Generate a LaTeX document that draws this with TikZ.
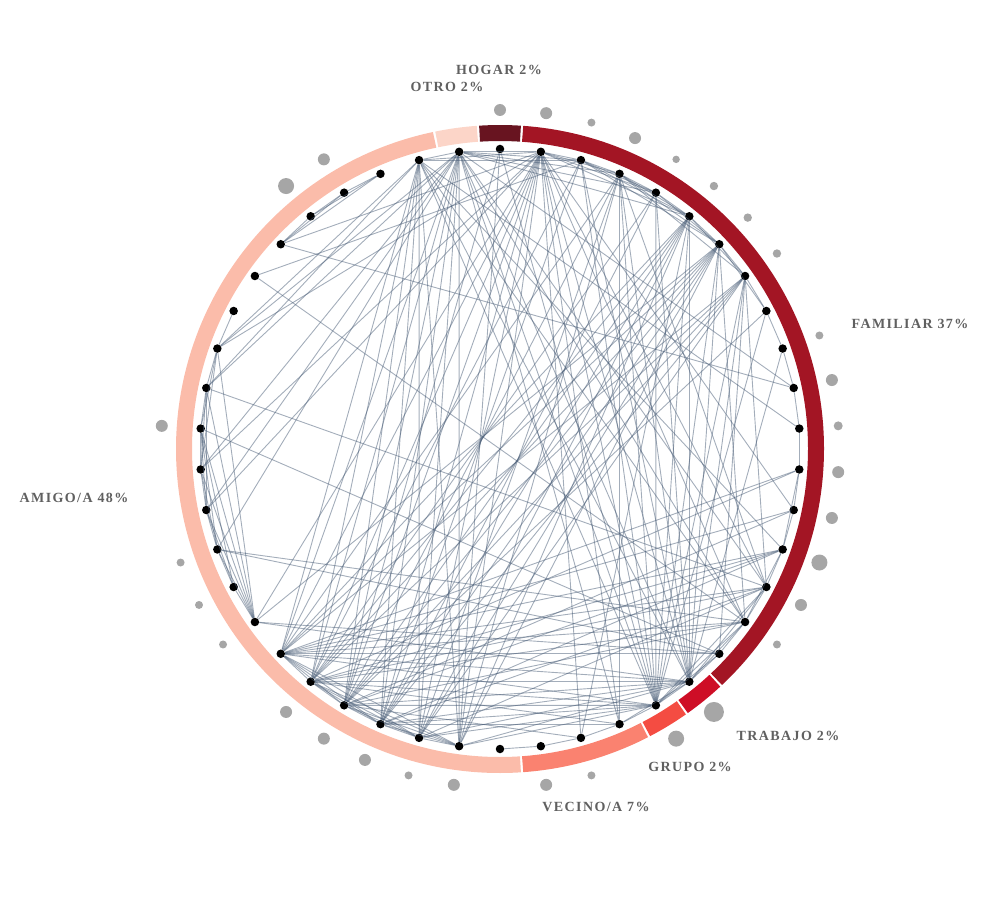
\documentclass[tikz,border=0pt]{standalone}
\usepackage{fontspec}
\setmainfont{Liberation Serif}
\usepackage{tikz}
\usetikzlibrary{positioning}

\definecolor{hogar}{RGB}{104,20,32}
\definecolor{familiar}{RGB}{163,21,36}
\definecolor{trabajo}{RGB}{206,14,38}
\definecolor{grupo}{RGB}{244,76,66}
\definecolor{vecino}{RGB}{250,130,112}
\definecolor{amigo}{RGB}{251,188,170}
\definecolor{otro}{RGB}{252,213,200}
\definecolor{bubblegrey}{RGB}{166,166,166}
\definecolor{tiecol}{RGB}{72,92,118}
\definecolor{labelgrey}{RGB}{96,96,96}

\begin{document}
\begin{tikzpicture}[x=1pt, y=1pt,
    member/.style={circle, fill=black, minimum size=8.5pt, inner sep=0pt},
    tie/.style={draw=tiecol, line width=0.9pt, opacity=0.5},
    segment/.style={line width=16pt},
    share/.style={text=labelgrey, font=\fontsize{14}{14}\selectfont\bfseries\addfontfeatures{LetterSpace=10}}]

   \useasboundingbox (-500,-451) rectangle (500,449);

   % ring of categories
   \foreach \a/\b/\c in {93.71/86.29/hogar, 85.89/-46.76/familiar,
      -47.16/-54.58/trabajo, -54.98/-62.41/grupo, -62.81/-85.89/vecino,
      -86.29/-258.06/amigo, -258.46/-265.89/otro}
      \draw[segment, \c] (\a:316) arc[start angle=\a, end angle=\b, radius=316];

   % bubbles outside the ring
   \foreach \k/\r in {0/6, 1/6, 2/4, 3/6, 4/3.7, 5/4.2, 6/4.2, 7/4.2, 9/4,
      10/6, 11/4.5, 12/6, 13/6, 14/8, 15/6, 16/4, 18/10, 19/8, 21/4, 22/6,
      24/6, 25/4, 26/6, 27/6, 28/6, 30/4, 31/4, 32/4, 35/6, 41/8, 42/6}
      \fill[bubblegrey] ({90-\k*360/46}:339) circle[radius=\r];

   % people
   \foreach \k in {0,...,45}
      \node[member] (n\k) at ({90-\k*360/46}:300) {};

   % ties
   \foreach \a/\b in {45/44, 45/1, 45/2, 45/3, 45/4, 45/5, 44/1, 44/2, 1/2, 1/3,
      1/4, 1/5, 2/3, 2/4, 2/5, 2/6, 3/4, 3/5, 3/6, 3/7, 4/5, 4/6, 5/6, 5/7,
      6/7, 7/8, 6/8,
      45/24, 45/25, 45/26, 45/27, 45/28, 45/29, 44/24, 44/25, 44/26, 44/27,
      44/28, 44/29, 1/24, 1/25, 1/26, 1/27, 1/28, 1/29, 1/30, 2/26, 2/28,
      3/24, 3/25, 3/27, 3/29, 4/26, 4/28, 5/24, 5/25, 5/26, 5/27, 5/28, 5/29,
      6/24, 6/25, 6/26, 6/27, 6/28, 6/29, 6/30, 7/25, 7/26, 7/27, 7/28, 7/29,
      0/24, 0/27,
      45/15, 45/16, 45/18, 45/19, 45/20, 44/14, 44/16, 44/18, 44/19,
      1/13, 1/15, 1/16, 1/18, 1/19, 1/20, 1/21, 2/18, 2/19, 3/15, 3/18, 3/19,
      3/20, 4/18, 4/19, 5/18, 5/19, 5/21, 6/16, 6/18, 6/19, 7/15, 7/17, 7/18,
      7/19, 0/19,
      8/9, 9/10, 10/11, 11/12, 12/13, 13/14, 14/15, 15/16, 15/18, 15/19,
      16/17, 16/18, 16/19, 17/18, 17/19, 18/19, 18/20, 19/20, 20/21, 21/22,
      22/23, 12/14, 14/16, 8/27, 8/19, 9/18,
      29/12, 29/13, 29/14, 29/15, 29/16, 29/17, 29/18, 29/19, 28/12, 28/14,
      28/15, 28/16, 28/18, 28/19, 28/20, 27/13, 27/14, 27/16, 27/18, 27/19,
      27/21, 26/14, 26/15, 26/18, 26/19, 26/20, 25/15, 25/18, 25/19, 24/18,
      24/19,
      24/25, 24/26, 24/27, 24/28, 24/29, 25/26, 25/27, 25/28, 25/29, 26/27,
      26/28, 26/29, 27/28, 27/29, 28/29,
      30/31, 30/32, 30/33, 30/34, 30/35, 30/36, 30/37, 31/32, 31/33, 31/35,
      32/33, 32/34, 32/35, 33/34, 33/35, 33/36, 34/35, 34/36, 34/37, 35/36,
      35/37, 36/37, 37/38,
      36/15, 35/17, 32/16, 32/17, 30/17, 30/18, 39/16, 39/2, 37/1, 37/45,
      36/45, 33/1, 34/45, 40/1, 10/40, 10/45, 11/44, 44/37, 44/36, 45/33,
      1/34, 45/32,
      40/41, 40/42, 40/43, 41/42, 41/43, 42/43}
      \draw[tie] (n\a) -- (n\b);

   % shares
   \node[share] (lhogar) at (-1,379) {HOGAR 2\%};
   \node[share] (lotro) at (-53,362) {OTRO 2\%};
   \node[share] (lfamiliar) at (410,125) {FAMILIAR 37\%};
   \node[share] (ltrabajo) at (288,-287) {TRABAJO 2\%};
   \node[share] (lgrupo) at (190,-318) {GRUPO 2\%};
   \node[share] (lvecino) at (96,-358) {VECINO/A 7\%};
   \node[share] (lamigo) at (-426,-49) {AMIGO/A 48\%};

\end{tikzpicture}
\end{document}
